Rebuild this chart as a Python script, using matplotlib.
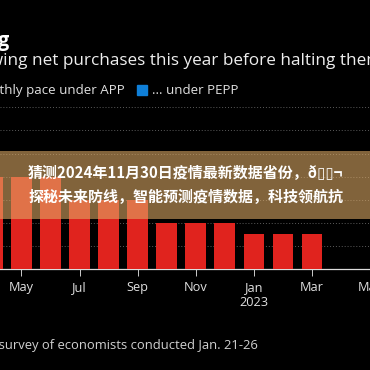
import matplotlib
matplotlib.use('Agg')
import matplotlib.pyplot as plt
from matplotlib.patches import Rectangle

# meses desde abril 2022, compras netas al mes
meses = ['Apr', 'May', 'Jun', 'Jul', 'Aug', 'Sep', 'Oct', 'Nov', 'Dec', 'Jan', 'Feb', 'Mar', 'Apr', 'May']
compras = [40, 40, 40, 30, 30, 30, 20, 20, 20, 15, 15, 15]
marcas = [1, 3, 5, 7, 9, 11, 13]
etiquetas = ['May', 'Jul', 'Sep', 'Nov', 'Jan\n2023', 'Mar', 'May']
rejilla = [10, 20, 30, 40, 50, 60, 70]

titulo = 'Tapering'
subtitulo = 'slowing net purchases this year before halting them'
leyenda = '... under PEPP'
leyenda_izq = 'Monthly pace under APP'
fuente = 'Bloomberg survey of economists conducted Jan. 21-26'
banner_1 = '猜测2024年11月30日疫情最新数据省份，ð▯▯¬'
banner_2 = '探秘未来防线，智能预测疫情数据，科技领航抗'

ROJO = '#e0231e'
AZUL = '#0f7fd8'
TEXTO = '#e0e0e0'
W = 370

def px(x, y):
    # pixeles de la imagen a fraccion de figura
    return x / W, 1 - y / W

fig = plt.figure(figsize=(3.7, 3.7), dpi=100, facecolor='black')
plt.rcParams['font.family'] = ['Open Sans', 'DejaVu Sans']

ax = fig.add_axes([0, (W - 268.5) / W, 1, 184 / W], facecolor='black')
ax.bar(range(len(compras)), compras, width=0.71, color=ROJO, zorder=3)
ax.set_xlim(0.26, 0.26 + W / 29.7)
ax.set_ylim(0, 80)
ax.set_yticks(rejilla)
ax.set_yticklabels([])
ax.tick_params(axis='y', length=0)
ax.grid(axis='y', color='#5c5c5c', linewidth=0.7, linestyle=(0, (1, 2)), zorder=1)
ax.set_xticks(marcas)
ax.set_xticklabels(etiquetas, fontsize=9.2, color=TEXTO, linespacing=1.25)
ax.tick_params(axis='x', length=5, width=0.7, color='#cccccc', pad=4)
for lado in ['top', 'left', 'right']:
    ax.spines[lado].set_visible(False)
ax.spines['bottom'].set_color('#dddddd')
ax.spines['bottom'].set_linewidth(0.9)

# textos recortados por el borde
x, y = px(-74, 46)
fig.text(x, y, titulo, color='white', fontsize=14, fontweight='bold', va='baseline')
x, y = px(-33, 65)
fig.text(x, y, subtitulo, color='#eeeeee', fontsize=12.3, va='baseline')
x, y = px(125, 94)
fig.text(x, y, leyenda_izq, color=TEXTO, fontsize=9.6, va='baseline', ha='right')
x, y = px(152, 94)
fig.text(x, y, leyenda, color=TEXTO, fontsize=9.6, va='baseline')
fig.patches.append(Rectangle(px(137, 94.5), 10 / W, 10 / W, transform=fig.transFigure, color=AZUL))
x, y = px(-72, 349)
fig.text(x, y, fuente, color='#d0d0d0', fontsize=9.4, va='baseline')

# banner translucido encima del grafico
fig.patches.append(Rectangle(px(0, 219), 1, 67.5 / W, transform=fig.transFigure,
                             facecolor='#e0ac67', alpha=0.58, edgecolor='none', zorder=5))
cjk = ['Noto Sans CJK SC', 'DejaVu Sans']
x, y = px(185.5, 178)
fig.text(x, y, banner_1, color='white', fontsize=10.8, fontweight='bold', family=cjk, ha='center', va='baseline', zorder=6)
x, y = px(186, 202)
fig.text(x, y, banner_2, color='white', fontsize=10.8, fontweight='bold', family=cjk, ha='center', va='baseline', zorder=6)

fig.savefig('out.png', dpi=100, facecolor='black')
